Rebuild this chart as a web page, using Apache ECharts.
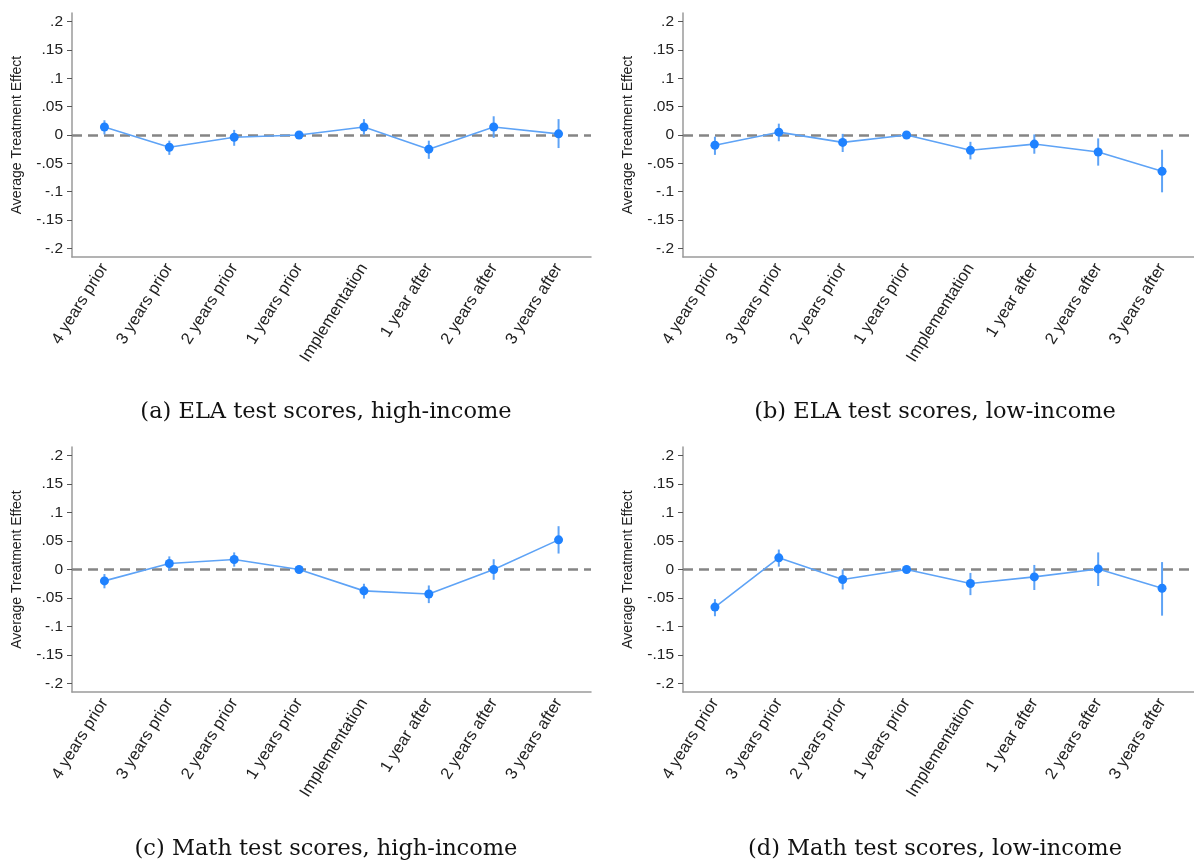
<!DOCTYPE html>
<html>
<head>
<meta charset="utf-8">
<title>Event-study estimates</title>
<script src="https://cdn.jsdelivr.net/npm/echarts@6/dist/echarts.min.js"></script>
<style>
  html, body { margin: 0; padding: 0; background: #ffffff; }
  #chart { width: 1194px; height: 861px; }
</style>
</head>
<body>
<div id="chart"></div>
<script>
// Event-time categories shared by all four panels
const categories = ['4 years prior', '3 years prior', '2 years prior', '1 years prior',
                    'Implementation', '1 year after', '2 years after', '3 years after'];

// Y-axis ticks and their printed labels
const yTicks = [0.2, 0.15, 0.1, 0.05, 0, -0.05, -0.1, -0.15, -0.2];
const yTickLabels = ['.2', '.15', '.1', '.05', '0', '-.05', '-.1', '-.15', '-.2'];

// (a) ELA, high-income: point estimates and confidence bounds
const elaHighEst = [0.014, -0.0215, -0.004, 0, 0.014, -0.025, 0.014, 0.002];
const elaHighLo  = [0.001, -0.035, -0.019, 0, 0.0005, -0.042, -0.005, -0.023];
const elaHighHi  = [0.026, -0.010, 0.009, 0, 0.028, -0.010, 0.033, 0.028];

// (b) ELA, low-income
const elaLowEst = [-0.018, 0.005, -0.013, 0, -0.027, -0.016, -0.030, -0.064];
const elaLowLo  = [-0.035, -0.011, -0.030, 0, -0.043, -0.033, -0.054, -0.101];
const elaLowHi  = [-0.003, 0.020, 0.002, 0, -0.012, 0.001, -0.006, -0.026];

// (c) Math, high-income
const mathHighEst = [-0.020, 0.0105, 0.0176, 0, -0.0375, -0.043, 0, 0.052];
const mathHighLo  = [-0.033, -0.002, 0.005, 0, -0.051, -0.059, -0.018, 0.028];
const mathHighHi  = [-0.008, 0.023, 0.030, 0, -0.025, -0.028, 0.018, 0.076];

// (d) Math, low-income
const mathLowEst = [-0.066, 0.0205, -0.0176, 0, -0.0246, -0.013, 0.001, -0.033];
const mathLowLo  = [-0.082, 0.005, -0.035, 0, -0.045, -0.036, -0.029, -0.081];
const mathLowHi  = [-0.052, 0.035, 0, 0, -0.006, 0.008, 0.030, 0.013];

// Panel captions
const captions = ['(a) ELA test scores, high-income', '(b) ELA test scores, low-income',
                  '(c) Math test scores, high-income', '(d) Math test scores, low-income'];

const panels = [
  { est: elaHighEst,  lo: elaHighLo,  hi: elaHighHi },
  { est: elaLowEst,   lo: elaLowLo,   hi: elaLowHi },
  { est: mathHighEst, lo: mathHighLo, hi: mathHighHi },
  { est: mathLowEst,  lo: mathLowLo,  hi: mathLowHi }
];

// Layout of the four plot regions (pixels)
const gridBoxes = [
  { left: 72,  top: 13,  width: 519, height: 244 },
  { left: 683, top: 13,  width: 520, height: 244 },
  { left: 72,  top: 447, width: 519, height: 245 },
  { left: 683, top: 447, width: 520, height: 245 }
];
const captionPos = [[326, 412], [935, 412], [326, 849], [935, 849]];

const LINE_BLUE = '#5ea3f6';
const MARK_BLUE = '#1f82ff';
const AXIS_GRAY = '#9a9a9a';
const TEXT = '#222222';
const SANS = '"Liberation Sans", Arial, Helvetica, sans-serif';

function tickLabel(v) {
  for (let i = 0; i < yTicks.length; i++) {
    if (Math.abs(v - yTicks[i]) < 1e-9) return yTickLabels[i];
  }
  return '';
}

const grid = [], xAxis = [], yAxis = [], series = [], graphic = [];

panels.forEach((p, k) => {
  grid.push(Object.assign({ containLabel: false }, gridBoxes[k]));

  xAxis.push({
    type: 'category',
    gridIndex: k,
    data: categories,
    boundaryGap: true,
    axisLine: { onZero: false, lineStyle: { color: AXIS_GRAY, width: 1.5 } },
    axisTick: { alignWithLabel: true, length: 5, lineStyle: { color: '#555', width: 1 } },
    axisLabel: { interval: 0, rotate: 58, margin: 8, fontSize: 16.5, color: TEXT, fontFamily: SANS },
    splitLine: { show: false }
  });

  yAxis.push({
    type: 'value',
    gridIndex: k,
    min: -0.215,
    max: 0.215,
    name: 'Average Treatment Effect',
    nameLocation: 'middle',
    nameRotate: 90,
    nameGap: 48,
    nameTextStyle: { fontSize: 14, color: TEXT, fontFamily: SANS },
    axisLine: { show: true, onZero: false, lineStyle: { color: AXIS_GRAY, width: 1.5 } },
    axisTick: { show: true, length: 5, customValues: yTicks, lineStyle: { color: '#555', width: 1 } },
    axisLabel: { customValues: yTicks, formatter: tickLabel, margin: 9, fontSize: 15.5, color: TEXT, fontFamily: SANS },
    splitLine: { show: false }
  });

  // Confidence intervals as vertical segments, plus the zero reference line
  series.push({
    type: 'custom',
    xAxisIndex: k,
    yAxisIndex: k,
    z: 2,
    data: categories.map((c, i) => [i, p.lo[i], p.hi[i]]),
    encode: { x: 0, y: [1, 2] },
    renderItem: function (params, api) {
      const a = api.coord([api.value(0), api.value(1)]);
      const b = api.coord([api.value(0), api.value(2)]);
      return {
        type: 'line',
        shape: { x1: a[0], y1: a[1], x2: b[0], y2: b[1] },
        style: { stroke: LINE_BLUE, lineWidth: 2 }
      };
    },
    markLine: {
      silent: true,
      symbol: 'none',
      label: { show: false },
      lineStyle: { type: [10, 6], color: '#858585', width: 2.5 },
      data: [{ yAxis: 0 }],
      z: 1
    }
  });

  // Point estimates joined by a line
  series.push({
    type: 'line',
    xAxisIndex: k,
    yAxisIndex: k,
    z: 3,
    data: p.est,
    symbol: 'circle',
    symbolSize: 9,
    showAllSymbol: true,
    lineStyle: { color: LINE_BLUE, width: 1.6 },
    itemStyle: { color: MARK_BLUE }
  });

  graphic.push({
    type: 'text',
    x: captionPos[k][0],
    y: captionPos[k][1],
    style: {
      text: captions[k],
      fontFamily: '"DejaVu Serif", "Liberation Serif", serif',
      fontSize: 22.5,
      fill: '#111',
      textAlign: 'center',
      textVerticalAlign: 'middle'
    }
  });
});

const chart = echarts.init(document.getElementById('chart'), null, { renderer: 'canvas' });
chart.setOption({
  backgroundColor: '#ffffff',
  animation: false,
  grid, xAxis, yAxis, series, graphic
});
</script>
</body>
</html>
